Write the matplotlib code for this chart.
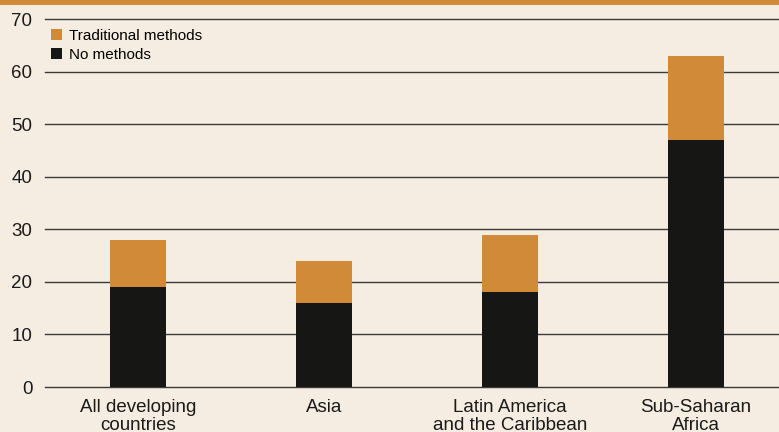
import matplotlib
matplotlib.use("Agg")
import matplotlib.pyplot as plt
from matplotlib.patches import Rectangle
import numpy as np

categories = ["All developing\ncountries", "Asia", "Latin America\nand the Caribbean", "Sub-Saharan\nAfrica"]
no_methods = [19, 16, 18, 47]
traditional = [9, 8, 11, 16]
yticks = [0, 10, 20, 30, 40, 50, 60, 70]

bg = "#F6EDE2"
orange = "#D08A38"
black = "#161614"

plt.rcParams['font.family'] = ['Liberation Sans', 'DejaVu Sans']

fig = plt.figure(figsize=(7.79, 4.32), dpi=100, facecolor=bg)
W, H = 779, 432
ax = fig.add_axes([45 / W, (H - 387) / H, (W - 45) / W, 368 / H])
ax.set_facecolor(bg)

fig.patches.append(Rectangle((0, 1 - 5 / H), 1, 5 / H, transform=fig.transFigure,
                             facecolor=orange, edgecolor='none', zorder=10))

x = np.arange(len(categories))
ax.bar(x, no_methods, width=0.30, color=black, zorder=3, label="No methods")
ax.bar(x, traditional, width=0.30, bottom=no_methods, color=orange, zorder=3,
       label="Traditional methods")

ax.set_xlim(-0.5, 3.446)
ax.set_ylim(0, 70)
ax.set_yticks(yticks)
ax.set_yticklabels([str(v) for v in yticks], fontsize=13.5, color="#1a1a1a")
ax.yaxis.grid(True, color="#3a3a3a", linewidth=1.0, zorder=1)
for gl in ax.get_ygridlines():
    gl.set_clip_on(False)
ax.tick_params(axis='y', length=0, pad=9)
ax.tick_params(axis='x', length=0, pad=9)
ax.set_xticks(x)
ax.set_xticklabels(categories, fontsize=13.5, color="#1a1a1a", linespacing=1.0)
for s in ax.spines.values():
    s.set_visible(False)

handles, labels = ax.get_legend_handles_labels()
leg = ax.legend(handles[::-1], labels[::-1], loc='upper left', bbox_to_anchor=(-0.005, 1.0),
                frameon=False, fontsize=11, handlelength=0.7, handleheight=0.7,
                handletextpad=0.45, labelspacing=0.3, borderaxespad=0.25)

fig.savefig("out.png", dpi=100, facecolor=bg)
